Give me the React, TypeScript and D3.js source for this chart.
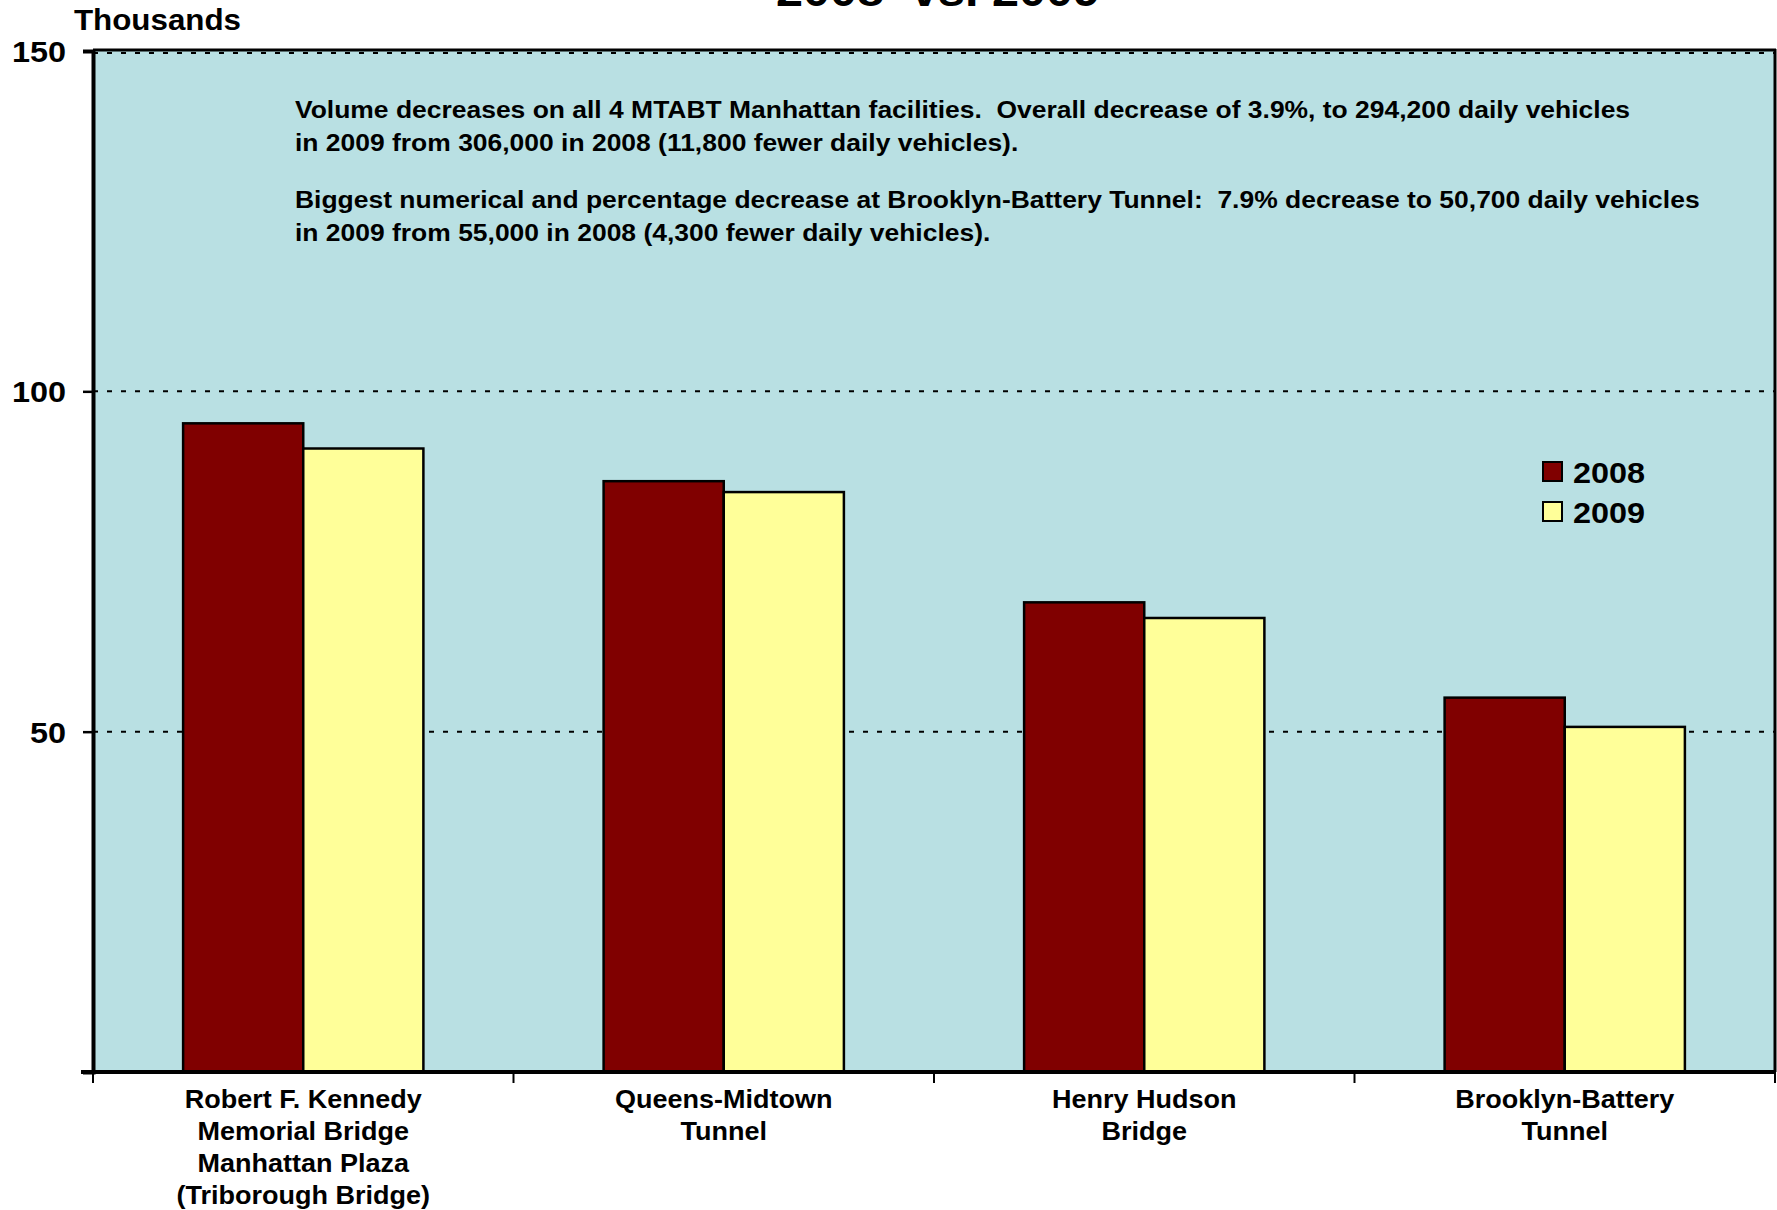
import { useEffect, useRef } from "react";
import * as d3 from "d3";

// values in thousands of daily vehicles
const categories = [
  ["Robert F. Kennedy", "Memorial Bridge", "Manhattan Plaza", "(Triborough Bridge)"],
  ["Queens-Midtown", "Tunnel"],
  ["Henry Hudson", "Bridge"],
  ["Brooklyn-Battery", "Tunnel"],
];
const seriesNames = ["2008", "2009"];
const values2008 = [95.3, 86.8, 69.0, 55.0];
const values2009 = [91.6, 85.2, 66.7, 50.7];
const yTicks = [0, 50, 100, 150];
const gridTicks = [50, 100, 150];
const notes = [
  "Volume decreases on all 4 MTABT Manhattan facilities.  Overall decrease of 3.9%, to 294,200 daily vehicles",
  "in 2009 from 306,000 in 2008 (11,800 fewer daily vehicles).",
  "",
  "Biggest numerical and percentage decrease at Brooklyn-Battery Tunnel:  7.9% decrease to 50,700 daily vehicles",
  "in 2009 from 55,000 in 2008 (4,300 fewer daily vehicles).",
];
const colors = ["#800000", "#FFFF99"];

const W = 1777;
const H = 1210;
const FONT = "'Liberation Sans', Arial, sans-serif";
const SX = 1.08; // the original chart is a bit stretched sideways

export default function App() {
  const ref = useRef<SVGSVGElement>(null);

  useEffect(() => {
    const svg = d3.select(ref.current);
    svg.selectAll("*").remove();

    const left = 93, right = 1775, top = 51, bottom = 1072;
    const keys = categories.map((c) => c.join(" "));

    const x = d3.scaleBand().domain(keys).range([left, right])
      .paddingInner(0.4286).paddingOuter(0.2143);
    const x1 = d3.scaleBand().domain(seriesNames).range([0, x.bandwidth()]);
    const y = d3.scaleLinear().domain([0, 150]).range([bottom, top]);

    const g = svg.append("g").style("font-family", FONT).style("font-weight", "bold");

    // stretched text helper
    const label = (tx: number, ty: number, size: number, anchor = "start") =>
      g.append("text").attr("transform", `translate(${tx},${ty}) scale(${SX},1)`)
        .attr("text-anchor", anchor).attr("xml:space", "preserve")
        .style("white-space", "pre").style("font-size", size + "px");

    // title (mostly cut off at the top of the page)
    label(938, 6, 45, "middle").text("2008  vs. 2009");

    // plot background
    g.append("rect").attr("x", left).attr("y", top).attr("width", right - left)
      .attr("height", bottom - top).attr("fill", "#B9E0E3");

    // dashed gridlines
    g.selectAll(".grid").data(gridTicks).enter().append("line")
      .attr("x1", left).attr("x2", right)
      .attr("y1", (d) => y(d) + (d === 150 ? 2 : 0)).attr("y2", (d) => y(d) + (d === 150 ? 2 : 0))
      .attr("stroke", "#000").attr("stroke-width", 2).attr("stroke-dasharray", "5 9");

    // bars
    const data = keys.map((k, i) => ({ k, vals: [values2008[i], values2009[i]] }));
    const groups = g.selectAll(".grp").data(data).enter().append("g")
      .attr("transform", (d) => `translate(${x(d.k)},0)`);
    groups.selectAll("rect").data((d) => d.vals.map((v, j) => ({ v, s: seriesNames[j], j })))
      .enter().append("rect")
      .attr("x", (d) => x1(d.s)!)
      .attr("y", (d) => y(d.v))
      .attr("width", x1.bandwidth())
      .attr("height", (d) => bottom - y(d.v))
      .attr("fill", (d) => colors[d.j])
      .attr("stroke", "#000").attr("stroke-width", 2.5);

    // frame
    g.append("line").attr("x1", left).attr("x2", right + 1).attr("y1", top - 1).attr("y2", top - 1)
      .attr("stroke", "#000").attr("stroke-width", 3);
    g.append("line").attr("x1", right).attr("x2", right).attr("y1", top - 2).attr("y2", bottom)
      .attr("stroke", "#000").attr("stroke-width", 3);

    // y axis
    const yAxis = g.append("g").attr("transform", `translate(${left},0)`)
      .call(d3.axisLeft(y).tickValues(yTicks).tickSize(10).tickFormat(() => ""));
    yAxis.select(".domain").attr("stroke-width", 4);
    yAxis.selectAll(".tick line").attr("stroke-width", 2.5);
    yTicks.filter((t) => t > 0).forEach((t) => {
      label(66, y(t) + 11, 30, "end").text(String(t));
    });
    label(74, 30, 29).text("Thousands");

    // x axis
    const bounds = keys.map((k) => x(k)! - (x.step() - x.bandwidth()) / 2).concat([right]);
    g.append("line").attr("x1", left - 12).attr("x2", right + 1).attr("y1", bottom).attr("y2", bottom)
      .attr("stroke", "#000").attr("stroke-width", 4);
    g.selectAll(".xtick").data(bounds).enter().append("line")
      .attr("x1", (d) => d).attr("x2", (d) => d).attr("y1", bottom).attr("y2", bottom + 11)
      .attr("stroke", "#000").attr("stroke-width", 2);

    categories.forEach((lines, i) => {
      const cx = x(keys[i])! + x.bandwidth() / 2;
      const t = label(cx, 1108, 25, "middle");
      lines.forEach((ln, j) => {
        t.append("tspan").attr("x", 0).attr("y", j * 32).text(ln);
      });
    });

    // notes
    const nt = label(295, 118, 24.5);
    let ny = 0;
    notes.forEach((ln) => {
      if (ln === "") { ny += 24; return; }
      nt.append("tspan").attr("x", 0).attr("y", ny).text(ln);
      ny += 33;
    });

    // legend
    const lg = g.append("g").attr("transform", "translate(1543,462)");
    seriesNames.forEach((s, i) => {
      lg.append("rect").attr("x", 0).attr("y", i * 40).attr("width", 19).attr("height", 19)
        .attr("fill", colors[i]).attr("stroke", "#000").attr("stroke-width", 2);
      label(1573, 462 + i * 40 + 21, 30).text(s);
    });
  }, []);

  return (
    <svg ref={ref} width={W} height={H}
      style={{ position: "absolute", left: 0, top: 0, background: "#fff" }} />
  );
}
